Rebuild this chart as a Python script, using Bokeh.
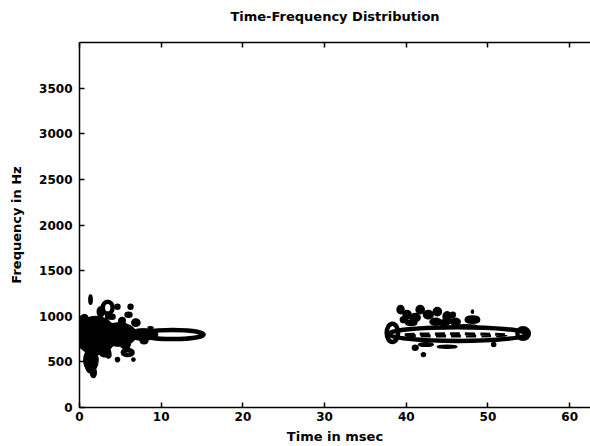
from bokeh.plotting import figure
from bokeh.models import Range1d, LinearAxis, FixedTicker
from bokeh.embed import file_html
from bokeh.resources import INLINE

# ---- text / ticks ----
title_text = "Time-Frequency Distribution"
x_label = "Time in msec"
y_label = "Frequency in Hz"
x_ticks = [0, 10, 20, 30, 40, 50, 60]
y_ticks = [0, 500, 1000, 1500, 2000, 2500, 3000, 3500]

# ---- dense contour cores (time ms, freq Hz, width ms, height Hz) ----
core_t = [2.0, 4.8, 7.8, 1.4]
core_f = [790, 800, 800, 520]
core_w = [5.0, 4.4, 3.6, 1.8]
core_h = [420, 260, 130, 260]

# ---- small closed contour islands (filled by dense contour lines) ----
blob_t = [1.35, 2.6, 4.65, 6.25, 6.0, 4.0, 8.7, 4.65, 3.55, 6.6, 1.35, 1.7, 2.6,
          6.9, 5.6, 3.1, 0.6, 7.9, 3.6, 5.2,
          39.3, 40.1, 39.7, 41.7, 41.1, 42.7, 43.8, 43.6, 45.0, 46.0, 45.7, 48.1,
          45.0, 42.4, 41.1, 50.7, 42.1, 40.6, 44.6, 47.2]
blob_f = [1182, 1050, 1105, 1105, 1017, 995, 875, 525, 580, 525, 470, 383, 656,
          930, 690, 610, 960, 730, 1000, 950,
          1072, 1017, 963, 1072, 985, 1017, 1050, 940, 995, 940, 1017, 1050,
          667, 690, 656, 690, 580, 930, 930, 890]
blob_w = [0.4, 0.85, 0.6, 0.6, 0.85, 0.7, 0.6, 0.5, 0.6, 0.4, 1.2, 0.7, 0.7,
          1.0, 1.2, 1.4, 1.0, 0.9, 0.8, 0.8,
          0.85, 1.0, 0.85, 1.0, 1.2, 1.2, 1.0, 1.4, 1.0, 1.2, 0.6, 0.25,
          2.4, 1.8, 0.7, 0.5, 0.5, 1.4, 1.4, 3.0]
blob_h = [100, 110, 55, 55, 55, 55, 22, 45, 75, 35, 186, 110, 65,
          80, 90, 110, 120, 60, 60, 70,
          90, 90, 65, 90, 90, 90, 90, 75, 110, 75, 55, 35,
          33, 40, 55, 45, 40, 60, 60, 35]

# ---- open contour rings ----
ring_t = [11.4, 3.45, 5.9, 46.3, 38.3, 54.3, 48.1]
ring_f = [800, 1094, 602, 805, 818, 810, 963]
ring_w = [7.6, 1.2, 1.2, 17.0, 1.4, 1.4, 1.4]
ring_h = [100, 130, 55, 150, 200, 115, 45]

# ---- inner broken contour of the second burst ----
dash_t = [45.9]
dash_f = [795]
dash_w = [12.6]
dash_h = [25]

FONT = "DejaVu Sans"

p = figure(width=590, height=446,
           x_range=Range1d(0, 62.55), y_range=Range1d(0, 4000),
           output_backend="svg", toolbar_location=None,
           min_border_left=79, min_border_right=0,
           min_border_top=42, min_border_bottom=38,
           background_fill_color="white", border_fill_color="white",
           outline_line_color=None, title=title_text + "\n")
p.grid.visible = False

p.title.align = "center"
p.title.offset = 3
p.title.standoff = 8
p.title.text_font = FONT
p.title.text_font_size = "13px"
p.title.text_font_style = "bold"
p.title.text_color = "black"

for ax in (p.xaxis[0], p.yaxis[0]):
    ax.axis_line_color = "black"
    ax.axis_line_width = 1.5
    ax.major_tick_in = 5
    ax.major_tick_out = 0
    ax.major_tick_line_color = "black"
    ax.major_tick_line_width = 1.5
    ax.minor_tick_line_color = None
    ax.major_label_text_font = FONT
    ax.major_label_text_font_size = "12px"
    ax.major_label_text_font_style = "bold"
    ax.major_label_text_color = "black"
    ax.axis_label_text_font = FONT
    ax.axis_label_text_font_size = "13px"
    ax.axis_label_text_font_style = "bold"
    ax.axis_label_text_color = "black"

p.xaxis.ticker = FixedTicker(ticks=x_ticks)
p.yaxis.ticker = FixedTicker(ticks=y_ticks)
p.xaxis.axis_label = x_label
p.yaxis.axis_label = y_label
p.xaxis.major_label_standoff = 4
p.xaxis.axis_label_standoff = 5
p.yaxis.major_label_standoff = 7
p.yaxis.axis_label_standoff = 12

top = LinearAxis(ticker=FixedTicker(ticks=x_ticks),
                 axis_line_color="black", axis_line_width=1.5,
                 major_tick_in=5, major_tick_out=0,
                 major_tick_line_color="black", major_tick_line_width=1.5,
                 minor_tick_line_color=None,
                 major_label_overrides={t: "" for t in x_ticks},
                 major_label_standoff=0)
p.add_layout(top, "above")

p.ellipse(x=core_t, y=core_f, width=core_w, height=core_h,
          fill_color="black", line_color="black", line_width=1)
p.ellipse(x=blob_t, y=blob_f, width=blob_w, height=blob_h,
          fill_color="black", line_color="black", line_width=1.5)
p.ellipse(x=ring_t, y=ring_f, width=ring_w, height=ring_h,
          fill_color=None, line_color="black", line_width=4.5)
p.ellipse(x=dash_t, y=dash_f, width=dash_w, height=dash_h,
          fill_color=None, line_color="black", line_width=3, line_dash="10 5")

open("out.html", "w").write(file_html(p, INLINE))
